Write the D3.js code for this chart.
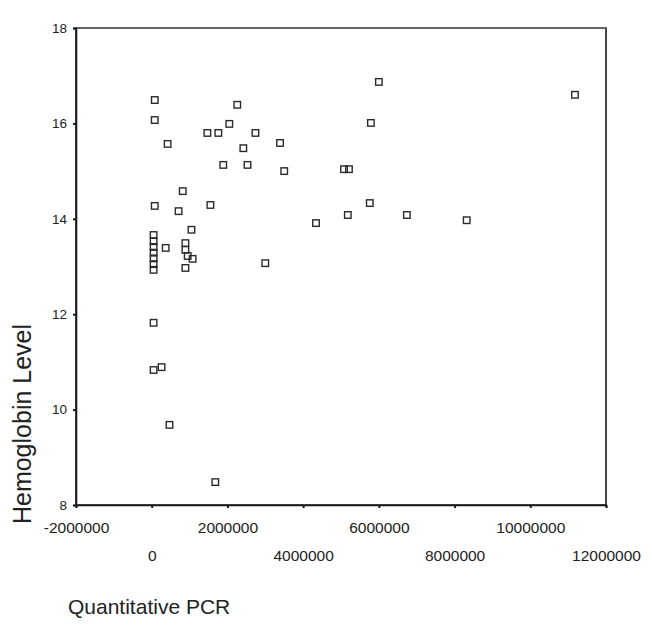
<!DOCTYPE html>
<html>
<head>
<meta charset="utf-8">
<script src="https://cdn.jsdelivr.net/npm/d3@7/dist/d3.min.js"></script>
<style>
  html, body { margin: 0; padding: 0; background: #ffffff; }
  svg { display: block; }
  text { font-family: "Liberation Sans", Arial, sans-serif; fill: #222; }
</style>
</head>
<body>
<div id="chart"></div>
<script>
// Quantitative PCR values (copies) and Hemoglobin levels
const pcrValues = [
  80000, 80000, 420000, 2260000, 1470000, 1760000, 2050000, 2740000, 2420000, 3390000,
  1890000, 2530000, 3500000, 6000000, 5790000, 5080000, 5210000, 5760000, 5180000, 6740000,
  8320000, 4340000, 11180000, 820000, 80000, 710000, 1550000, 1050000, 370000,
  50000, 50000, 50000, 50000, 50000, 50000, 50000,
  890000, 890000, 950000, 1080000, 890000, 3000000,
  50000, 50000, 260000, 470000, 1680000
];
const hbValues = [
  16.49, 16.07, 15.57, 16.39, 15.80, 15.80, 15.99, 15.80, 15.48, 15.59,
  15.13, 15.13, 15.00, 16.87, 16.01, 15.04, 15.04, 14.33, 14.08, 14.08,
  13.97, 13.91, 16.60, 14.58, 14.27, 14.16, 14.29, 13.77, 13.39,
  13.66, 13.53, 13.41, 13.29, 13.17, 13.05, 12.93,
  13.49, 13.35, 13.22, 13.16, 12.97, 13.07,
  11.82, 10.83, 10.89, 9.68, 8.48
];
const xTicks = [-2000000, 0, 2000000, 4000000, 6000000, 8000000, 10000000, 12000000];
const yTicks = [8, 10, 12, 14, 16, 18];
const xTitle = "Quantitative PCR";
const yTitle = "Hemoglobin Level";

const W = 652, H = 630;
const svg = d3.select("#chart").append("svg").attr("width", W).attr("height", H);

const x = d3.scaleLinear().domain([-2000000, 12000000]).range([76, 606]);
const y = d3.scaleLinear().domain([8, 18]).range([505, 28]);
const fmt = d => String(d); // plain hyphen-minus, as in the original

// plot frame
svg.append("rect")
  .attr("x", x.range()[0]).attr("y", y.range()[1])
  .attr("width", x.range()[1] - x.range()[0])
  .attr("height", y.range()[0] - y.range()[1])
  .attr("fill", "none").attr("stroke", "#1a1a1a").attr("stroke-width", 1.6);
svg.append("line")
  .attr("x1", x.range()[0]).attr("x2", x.range()[1])
  .attr("y1", y.range()[1]).attr("y2", y.range()[1])
  .attr("stroke", "#666").attr("stroke-width", 1.8);

// x axis
const xAxis = svg.append("g")
  .attr("transform", `translate(0,${y.range()[0]})`)
  .call(d3.axisBottom(x).tickValues(xTicks).tickFormat(fmt).tickSize(3).tickPadding(0));
xAxis.select(".domain").attr("stroke", "#1a1a1a").attr("stroke-width", 1.6);
xAxis.selectAll(".tick line").attr("stroke", "#1a1a1a").attr("stroke-width", 2);
xAxis.selectAll(".tick text")
  .attr("font-size", 15.5)
  .attr("font-family", "Liberation Sans, Arial, sans-serif")
  .attr("fill", "#222")
  .attr("dy", null)
  .attr("y", (d, i) => i % 2 === 0 ? 28 : 56);

// y axis
const yAxis = svg.append("g")
  .attr("transform", `translate(${x.range()[0]},0)`)
  .call(d3.axisLeft(y).tickValues(yTicks).tickFormat(fmt).tickSize(3).tickPadding(6));
yAxis.select(".domain").attr("stroke", "#1a1a1a").attr("stroke-width", 1.6);
yAxis.selectAll(".tick line").attr("stroke", "#1a1a1a").attr("stroke-width", 2);
yAxis.selectAll(".tick text")
  .attr("font-size", 13.5)
  .attr("font-family", "Liberation Sans, Arial, sans-serif")
  .attr("fill", "#222");

// points
const pts = pcrValues.map((v, i) => ({ x: v, y: hbValues[i] }));
const s = 6.5;
svg.append("g").selectAll("rect").data(pts).join("rect")
  .attr("x", d => x(d.x) - s / 2)
  .attr("y", d => y(d.y) - s / 2)
  .attr("width", s).attr("height", s)
  .attr("fill", "none")
  .attr("stroke", "#2a2a2a")
  .attr("stroke-width", 1.4);

// titles
svg.append("text")
  .attr("x", 68).attr("y", 614)
  .attr("font-size", 21)
  .text(xTitle);

svg.append("text")
  .attr("transform", "translate(31,424) rotate(-90)")
  .attr("text-anchor", "middle")
  .attr("font-size", 25)
  .text(yTitle);
</script>
</body>
</html>
